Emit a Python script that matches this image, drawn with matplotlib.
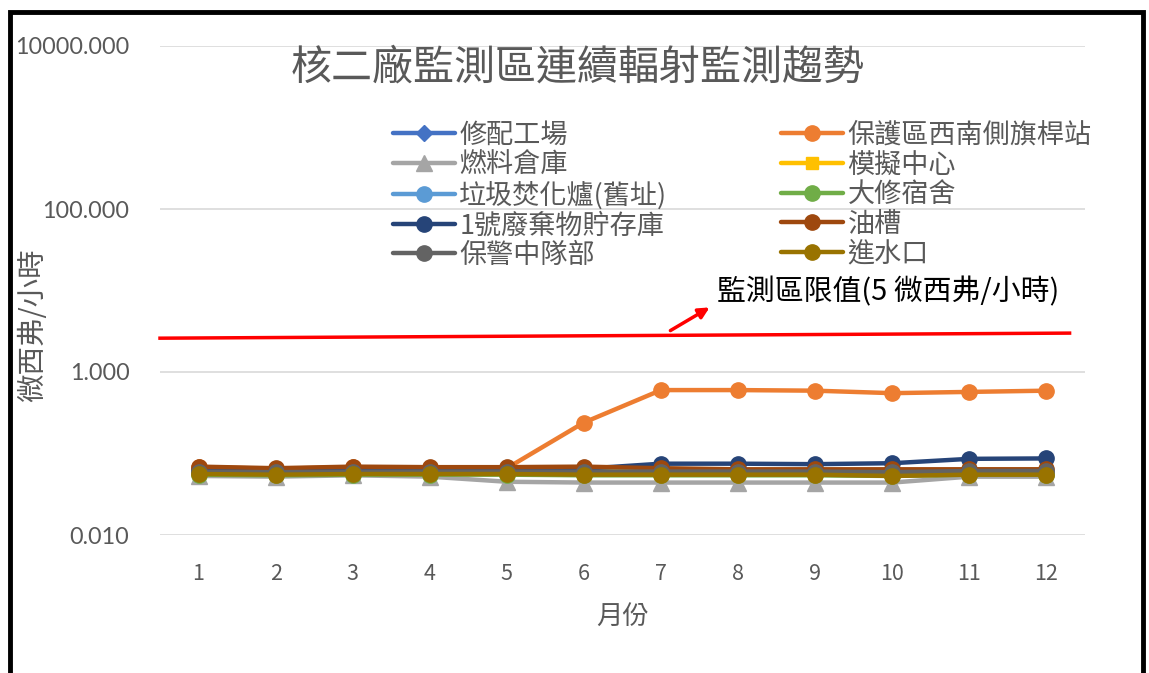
import matplotlib
matplotlib.use("Agg")
import matplotlib.pyplot as plt
from matplotlib.patches import Rectangle
from matplotlib.ticker import FixedLocator, FuncFormatter

plt.rcParams['font.family'] = ['Noto Sans CJK TC', 'DejaVu Sans']

# 月份
months = [1, 2, 3, 4, 5, 6, 7, 8, 9, 10, 11, 12]

# 各監測站 (微西弗/小時)
names = ['修配工場', '保護區西南側旗桿站', '燃料倉庫', '模擬中心', '垃圾焚化爐(舊址)',
         '大修宿舍', '1號廢棄物貯存庫', '油槽', '保警中隊部', '進水口']
xiupei = [0.058, 0.057, 0.058, 0.058, 0.058, 0.057, 0.058, 0.058, 0.058, 0.057, 0.058, 0.058]
baohu = [0.068, 0.065, 0.068, 0.067, 0.066, 0.24, 0.60, 0.60, 0.59, 0.55, 0.57, 0.59]
ranliao = [0.053, 0.052, 0.054, 0.052, 0.045, 0.044, 0.044, 0.044, 0.044, 0.044, 0.052, 0.052]
moni = [0.062, 0.061, 0.062, 0.062, 0.062, 0.062, 0.062, 0.062, 0.062, 0.061, 0.063, 0.063]
laji = [0.057, 0.056, 0.057, 0.057, 0.057, 0.057, 0.057, 0.057, 0.057, 0.056, 0.057, 0.057]
daxiu = [0.055, 0.054, 0.055, 0.055, 0.055, 0.054, 0.054, 0.054, 0.054, 0.053, 0.055, 0.055]
feiqiwu = [0.063, 0.062, 0.064, 0.063, 0.062, 0.065, 0.075, 0.075, 0.074, 0.076, 0.086, 0.087]
youcao = [0.069, 0.066, 0.069, 0.068, 0.068, 0.069, 0.066, 0.064, 0.064, 0.064, 0.064, 0.064]
baojing = [0.060, 0.059, 0.060, 0.060, 0.060, 0.060, 0.060, 0.060, 0.060, 0.059, 0.061, 0.061]
jinshui = [0.056, 0.055, 0.056, 0.056, 0.056, 0.055, 0.055, 0.055, 0.055, 0.053, 0.055, 0.055]

# 限值線 (圖上畫的位置)
limit_x = [0.5, 12.3]
limit_y = [2.6, 3.0]

series = [xiupei, baohu, ranliao, moni, laji, daxiu, feiqiwu, youcao, baojing, jinshui]
colors = ['#4472C4', '#ED7D31', '#A5A5A5', '#FFC000', '#5B9BD5',
          '#70AD47', '#264478', '#9E480E', '#636363', '#997300']
markers = ['D', 'o', '^', 's', 'o', 'o', 'o', 'o', 'o', 'o']

fig = plt.figure(figsize=(11.49, 6.73), dpi=100)
ax = fig.add_axes([160/1149, 1-535/673, (1085-160)/1149, (535-46)/673])

lines = []
for vals, name, c, m in zip(series, names, colors, markers):
    ms = 8 if m == 'D' else (11 if m != 's' else 9)
    ln, = ax.plot(months, vals, color=c, lw=3.2, marker=m, ms=ms, label=name,
                  solid_capstyle='round')
    lines.append(ln)

ax.plot(limit_x, limit_y, color='#FF0000', lw=2.5, clip_on=False)

ax.set_yscale('log')
ax.set_ylim(0.01, 10000)
ax.set_xlim(0.5, 12.5)
ax.yaxis.set_major_locator(FixedLocator([0.01, 1, 100, 10000]))
ax.yaxis.set_minor_locator(FixedLocator([]))
ax.yaxis.set_major_formatter(FuncFormatter(lambda v, p: '%.3f' % v))
ax.set_xticks(months)
ax.grid(axis='y', color='#D9D9D9', lw=1.2)
ax.set_axisbelow(True)
for s in ax.spines.values():
    s.set_visible(False)
ax.tick_params(axis='both', length=0, colors='#595959')
ax.tick_params(axis='y', pad=22, labelsize=16.8)
ax.tick_params(axis='x', pad=20, labelsize=15.5)
for t in ax.get_yticklabels():
    t.set_family(['Lato', 'DejaVu Sans'])
for t in ax.get_xticklabels():
    t.set_family(['Liberation Sans Narrow', 'Noto Sans CJK TC', 'DejaVu Sans'])

ax.set_xlabel('月份', fontsize=19, color='#595959', labelpad=13)
fig.text(33/1149, 1-325/673, '微西弗/小時', rotation=90, fontsize=20.5,
         color='#595959', ha='center', va='center')

fig.text(578/1149, 1-68/673, '核二廠監測區連續輻射監測趨勢', fontsize=29.5,
         color='#595959', ha='center', va='center')

# 圖例 (Excel 為列優先排列)
order = [0, 2, 4, 6, 8, 1, 3, 5, 7, 9]
leg = ax.legend([lines[i] for i in order], [names[i] for i in order], ncol=2,
                loc='upper left', bbox_to_anchor=(222/925, 1-(111-46)/489),
                frameon=False, fontsize=19.5, handlelength=2.3, handletextpad=0.15,
                columnspacing=4.2, labelspacing=0.1, borderaxespad=0)
for t in leg.get_texts():
    t.set_color('#595959')

fig.text(717/1149, 1-292/673, '監測區限值(5 微西弗/小時)', fontsize=20.8,
         color='#000000', ha='left', va='center')
ax.annotate('', xy=(712/1149, 1-306/673), xytext=(668/1149, 1-332/673),
            xycoords='figure fraction', textcoords='figure fraction',
            arrowprops=dict(arrowstyle='-|>', color='#FF0000', lw=2.5,
                            mutation_scale=16))

fig.patches.append(Rectangle((10/1149, -0.02), 1133/1149, 1.02-11.5/673,
                             transform=fig.transFigure, fill=False,
                             edgecolor='black', lw=3.5))

fig.savefig('out.png', dpi=100)
